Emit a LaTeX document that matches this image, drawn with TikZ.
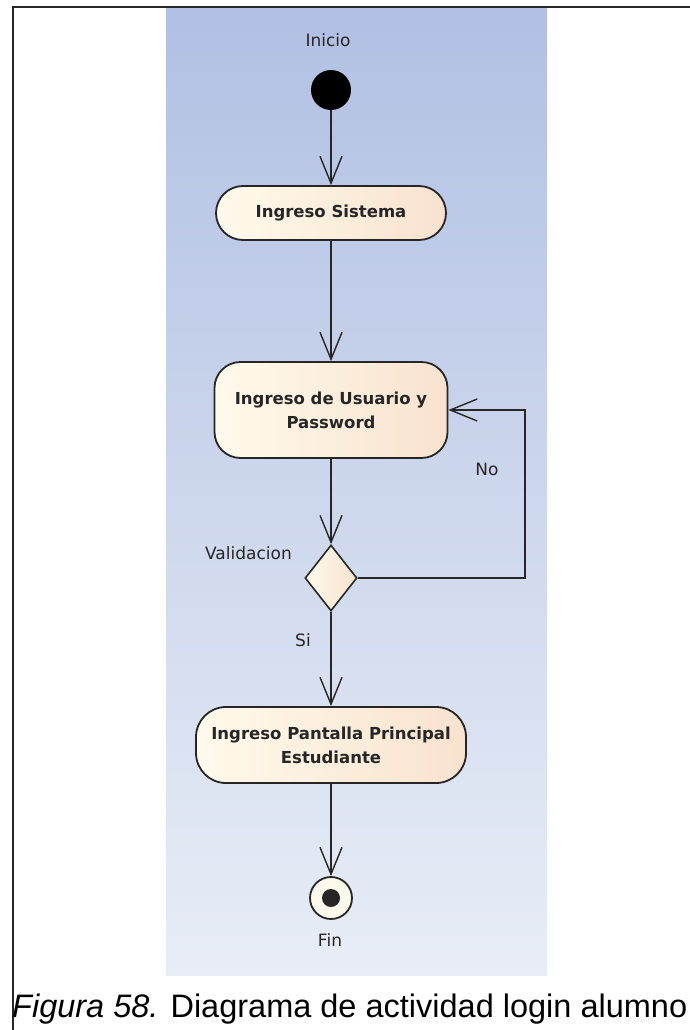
\documentclass[tikz,border=0pt]{standalone}
\usepackage{fontspec}
\setmainfont{Liberation Sans}
\newfontfamily\diafont{DejaVu Sans}
\usepackage{xcolor}
\definecolor{panelTop}{HTML}{B1C0E3}
\definecolor{panelBot}{HTML}{E8EDF6}
\definecolor{actLeft}{HTML}{FFFAEC}
\definecolor{actRight}{HTML}{F8E2CE}
\definecolor{ink}{HTML}{262626}
\usepackage{tikz}
\usetikzlibrary{positioning,arrows.meta,shapes.geometric,calc}

\begin{document}
\begin{tikzpicture}[x=1pt, y=-1pt,
    activity/.style={draw=ink, line width=1.8pt, rounded corners=#1,
      left color=actLeft, right color=actRight, text=ink, align=center,
      font=\diafont\bfseries\fontsize{16.5}{24}\selectfont, inner sep=0pt},
    activity/.default=26pt,
    decision/.style={draw=ink, line width=1.6pt, shape=diamond, inner sep=0pt,
      minimum width=52pt, minimum height=66pt, left color=actLeft, right color=actRight},
    startdot/.style={circle, fill=black, minimum size=40pt, inner sep=0pt},
    enddot/.style={circle, draw=ink, line width=1.8pt, fill=actLeft, minimum size=42pt, inner sep=0pt},
    lbl/.style={font=\diafont\fontsize{17}{20}\selectfont, text=ink, inner sep=0pt},
    flow/.style={draw=ink, line width=1.4pt, -{Straight Barb[length=27pt, width=22pt]}}]
  \useasboundingbox (0,0) rectangle (690,1030);
  % page frame and swimlane background
  \draw[line width=2.2pt, color=ink] (13,1030) -- (13,7) -- (690,7);
  \shade[top color=panelTop, bottom color=panelBot] (166,9) rectangle (547,975);

  % activity nodes
  \node[startdot] (inicio) at (331,90) {};
  \node[lbl] (inicioLbl) at (328,40) {Inicio};
  \node[activity, minimum width=230pt, minimum height=54pt, rounded corners=27pt]
       (sistema) at (331,213) {Ingreso Sistema};
  \node[activity, minimum width=233pt, minimum height=96pt]
       (usuario) at (331,410) {Ingreso de Usuario y\\Password};
  \node[decision] (valida) at (331,578) {};
  \node[lbl, anchor=east] (validaLbl) at (292,553) {Validacion};
  \node[activity, minimum width=270pt, minimum height=76pt, rounded corners=30pt]
       (pantalla) at (331,745) {Ingreso Pantalla Principal\\Estudiante};
  \node[enddot] (fin) at (331,898) {};
  \fill[ink] (fin.center) circle (9pt);
  \node[lbl] (finLbl) at (330,940) {Fin};

  % control flow
  \coordinate (retorno) at (525,578);
  \draw[flow] (inicio) -- (sistema);
  \draw[flow] (sistema) -- (usuario);
  \draw[flow] (usuario) -- (valida);
  \draw[flow] (valida.east) -- (retorno) |- (usuario.east);
  \node[lbl] (noLbl) at (487,469) {No};
  \draw[flow] (valida) -- (pantalla);
  \node[lbl] (siLbl) at (303,640) {Si};
  \draw[flow] (pantalla) -- (fin);

  % caption
  \node[anchor=base west, inner sep=0pt, font=\fontsize{32.5}{38}\selectfont]
       (caption) at (12,1017) {\textit{Figura 58.} Diagrama de actividad login alumno};
\end{tikzpicture}
\end{document}
